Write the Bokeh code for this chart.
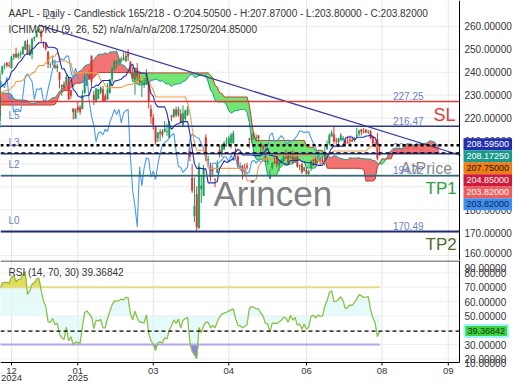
import numpy as np
from bokeh.plotting import figure
from bokeh.layouts import column
from bokeh.models import Label, Range1d
from bokeh.embed import file_html
from bokeh.resources import INLINE

FONT = "Liberation Sans"

# ---------------- data (daily bars, index 0 ~ 6 Dec 2024; negative = history) -------------
first_index = -82
opens = [
    216.07, 219.01, 220.57, 224.60, 223.92, 225.72, 225.77, 226.52, 227.79, 225.66, 226.76, 226.00, 227.92, 230.10, 230.19,
    228.55, 221.66, 221.63, 223.95, 220.82, 218.92, 221.46, 222.50, 223.58, 216.54, 215.75, 217.55, 224.99, 229.97, 227.34, 228.65, 224.93, 227.30, 228.46, 230.04,
    229.52, 225.89, 225.14, 227.90, 224.50, 224.30, 225.23, 227.78, 229.30, 228.70, 233.61, 231.60, 233.43, 236.18, 234.45, 233.89, 234.08, 229.98, 229.74, 233.32, 233.10, 232.61, 229.34,
    220.97, 220.99, 221.80, 222.61, 224.63, 227.17, 225.00, 224.55, 224.01, 225.02, 226.40, 225.25, 226.98, 228.06, 228.88, 228.06, 231.46, 233.33, 234.47, 234.81,
    237.27, 239.81, 242.87, 243.99, 242.91, 241.83, 246.89, 247.96, 246.89, 247.82, 247.99, 250.08, 252.16, 247.50, 248.04, 254.77, 255.49, 258.19, 257.83, 252.23, 252.44,
    248.93, 243.36, 244.31, 242.98, 241.92, 240.01, 233.53, 234.75, 234.64, 237.35, 232.12, 224.00, 219.79, 224.74, 224.78, 224.02, 230.85, 234.12, 238.67, 247.19,
    229.99, 227.25, 228.53, 231.29, 232.60, 229.57, 228.20, 231.20, 236.91, 241.25, 244.15, 244.66, 244.94, 245.95, 244.93, 248.00, 244.33, 239.41, 236.95,
    241.79, 237.71, 235.42, 234.44, 235.11, 235.54, 223.81, 220.14, 215.95, 211.25, 213.31, 214.16, 214.22, 213.99, 211.56, 221.00, 220.77, 223.51, 221.39, 221.67, 217.01,
    219.81, 221.32, 205.54, 193.89, 177.20, 186.70, 171.95, 189.07, 186.10, 211.44, 201.86, 198.36, 197.20, 193.27, 196.12, 206.00, 204.89, 206.37, 210.00, 208.69, 209.30,
    209.08, 206.09, 203.10, 198.21, 199.17, 197.72, 199.00, 210.97, 210.43, 212.43, 210.95, 212.36, 207.91, 207.67, 205.17, 200.71, 193.67, 198.30, 200.59, 203.58, 199.37,
    200.28, 201.35, 202.91, 203.50, 203.00, 204.39, 200.60, 203.50, 199.08, 199.73, 197.30, 197.20, 195.94, 198.24, 201.63, 202.59, 201.45, 201.43, 201.89, 202.01,
    206.67, 208.91, 212.15, 212.68, 210.10, 209.53, 210.51, 210.57, 209.93, 209.22, 210.30, 210.57, 210.87, 212.10, 213.14, 215.00, 213.90, 214.70, 214.03, 214.18, 211.90, 208.49,
    210.87, 204.505,
]
highs = [
    219.51, 221.89, 223.03, 225.35, 226.83, 225.99, 227.17, 227.98, 228.34, 228.22, 227.28, 228.85, 229.86, 232.92, 230.40,
    229.00, 221.78, 225.48, 225.24, 221.27, 221.48, 223.09, 223.55, 224.04, 217.22, 216.90, 222.71, 229.82, 233.09, 229.45, 229.35, 227.29, 228.50, 229.52, 233.00,
    229.65, 227.37, 226.81, 228.00, 225.69, 225.98, 229.75, 229.50, 229.41, 231.73, 237.49, 232.12, 233.85, 236.18, 236.85, 236.22, 235.14, 230.82, 233.22, 234.73, 234.33, 233.47, 229.83,
    225.35, 222.79, 223.95, 226.07, 227.88, 228.66, 225.70, 225.59, 226.65, 228.87, 226.92, 229.74, 230.16, 229.93, 230.16, 230.72, 233.25, 235.57, 235.69, 237.81,
    240.79, 242.76, 244.11, 244.54, 244.63, 247.24, 248.21, 250.80, 248.74, 249.29, 251.38, 253.83, 254.28, 252.00, 255.00, 255.65, 258.21, 260.10, 258.70, 253.50, 253.28,
    249.10, 244.18, 247.33, 245.55, 243.71, 240.16, 234.67, 236.12, 238.96, 238.01, 232.29, 224.42, 224.12, 227.03, 225.63, 232.15, 240.19, 239.86, 240.79, 247.19,
    231.83, 233.13, 232.67, 233.80, 234.00, 230.59, 235.23, 236.96, 242.34, 245.55, 245.18, 246.01, 246.78, 248.69, 248.86, 250.00, 244.98, 242.46, 242.09,
    244.03, 240.07, 236.55, 237.86, 241.37, 236.16, 225.84, 221.75, 216.84, 213.95, 215.22, 215.15, 218.76, 217.49, 218.84, 221.48, 224.10, 225.02, 224.99, 223.81, 225.62,
    223.68, 225.19, 207.49, 199.88, 194.15, 190.34, 200.61, 194.78, 199.54, 212.94, 203.51, 200.70, 198.83, 193.80, 201.59, 208.00, 208.83, 209.75, 211.50, 212.24, 213.58,
    214.56, 206.99, 204.10, 200.65, 199.44, 200.05, 200.54, 211.27, 213.40, 213.94, 212.96, 212.57, 209.48, 208.47, 207.04, 202.75, 197.70, 200.74, 202.73, 203.81, 201.96,
    202.13, 203.77, 206.24, 204.75, 205.70, 206.00, 204.35, 204.50, 199.68, 200.37, 198.69, 198.39, 197.57, 201.70, 202.30, 203.44, 203.67, 202.64, 203.22, 207.39,
    210.19, 213.34, 214.65, 216.23, 211.43, 211.33, 213.48, 212.13, 210.91, 211.89, 212.40, 211.80, 211.79, 215.78, 214.95, 215.15, 215.69, 215.24, 214.85, 214.81, 212.39, 209.84,
    213.58, 207.87,
]
lows = [
    215.60, 219.01, 219.70, 222.76, 223.65, 223.04, 225.45, 225.05, 223.90, 224.33, 223.89, 224.89, 225.68, 228.88, 227.48,
    221.17, 217.48, 221.52, 219.77, 216.71, 216.73, 217.89, 219.82, 221.91, 213.92, 214.50, 217.54, 224.63, 227.62, 225.81, 225.73, 224.02, 225.41, 227.30, 229.65,
    223.74, 223.02, 223.32, 224.13, 221.33, 223.25, 224.83, 227.17, 227.34, 228.60, 232.37, 229.84, 230.52, 234.01, 234.45, 232.60, 227.76, 228.41, 229.57, 232.55, 232.32, 229.55, 225.37,
    220.27, 219.71, 221.14, 221.19, 224.57, 226.41, 221.50, 223.36, 222.76, 225.00, 224.27, 225.17, 226.66, 225.89, 225.71, 228.06, 229.74, 233.33, 233.81, 233.97,
    237.16, 238.90, 241.25, 242.13, 242.08, 241.75, 245.34, 246.26, 245.68, 246.24, 247.65, 249.78, 247.74, 247.09, 245.69, 253.45, 255.29, 257.63, 253.06, 250.75, 249.43,
    241.82, 241.89, 243.20, 241.35, 240.05, 233.00, 229.72, 232.47, 234.43, 228.03, 228.48, 219.38, 219.79, 222.30, 221.41, 223.98, 230.81, 234.01, 237.21, 233.44,
    225.70, 226.65, 228.27, 230.43, 227.26, 227.20, 228.13, 230.68, 235.57, 240.99, 241.84, 243.16, 244.29, 245.22, 244.42, 244.91, 239.13, 237.06, 230.20,
    236.11, 234.68, 229.23, 233.16, 234.76, 224.22, 217.45, 214.91, 208.42, 209.58, 209.97, 211.49, 213.75, 212.22, 211.28, 218.58, 220.08, 220.47, 220.56, 217.68, 216.23,
    218.90, 221.02, 201.25, 187.34, 174.62, 170.49, 171.89, 183.00, 186.06, 201.16, 199.80, 192.37, 194.42, 189.81, 195.97, 202.80, 202.94, 206.20, 207.46, 208.37, 206.67,
    208.90, 202.16, 198.21, 197.02, 193.25, 194.68, 197.54, 206.75, 209.00, 210.58, 209.54, 209.77, 204.26, 205.03, 200.71, 199.70, 193.46, 197.43, 199.90, 198.51, 196.78,
    200.12, 200.96, 202.10, 200.15, 202.05, 200.02, 200.57, 198.41, 197.36, 195.70, 196.56, 195.21, 195.07, 196.86, 198.96, 200.20, 200.62, 199.46, 200.00, 199.26,
    206.14, 208.14, 211.81, 208.80, 208.45, 207.22, 210.03, 209.86, 207.54, 208.92, 208.64, 209.59, 209.70, 211.63, 212.23, 212.41, 213.53, 213.40, 213.06, 210.82, 207.72, 207.16,
    201.50, 203.80,
]
closes = [
    217.53, 221.27, 221.72, 224.72, 226.05, 225.89, 226.51, 226.40, 224.53, 226.84, 227.18, 228.03, 226.49, 229.79, 229.00,
    222.77, 220.85, 222.38, 220.82, 220.91, 220.11, 222.66, 222.77, 222.50, 216.32, 216.79, 220.69, 228.87, 228.20, 226.47, 227.37, 226.37, 227.52, 227.79, 233.00,
    226.21, 226.78, 225.67, 226.80, 221.69, 225.77, 229.54, 229.04, 227.55, 231.30, 233.85, 231.78, 232.15, 235.00, 236.48, 235.86, 230.76, 230.57, 231.41, 233.40, 233.67, 230.10, 225.91,
    222.91, 222.01, 223.45, 222.72, 227.48, 226.96, 224.23, 224.23, 225.12, 228.22, 225.00, 228.02, 228.28, 229.00, 228.52, 229.87, 232.87, 235.06, 234.93, 237.33,
    239.59, 242.65, 243.01, 243.04, 242.84, 246.75, 247.77, 246.49, 247.96, 248.13, 251.04, 253.48, 248.05, 249.79, 254.49, 255.27, 258.20, 259.02, 255.59, 252.20, 250.42,
    243.85, 243.36, 245.00, 242.21, 242.70, 236.85, 234.40, 233.28, 237.87, 228.26, 229.98, 222.64, 223.83, 223.66, 222.78, 229.86, 238.26, 239.36, 237.59, 236.00,
    228.01, 232.80, 232.47, 233.22, 227.63, 227.65, 232.62, 236.87, 241.53, 244.60, 244.47, 244.87, 245.83, 245.55, 247.10, 247.04, 240.36, 237.30, 241.84,
    238.03, 235.93, 235.74, 235.33, 239.07, 227.48, 220.84, 216.98, 209.68, 213.49, 214.00, 212.69, 215.24, 214.10, 218.27, 220.73, 223.75, 221.53, 223.85, 217.90, 222.13,
    223.19, 223.89, 203.19, 188.38, 181.46, 172.42, 198.85, 190.42, 198.15, 202.52, 202.14, 194.27, 196.98, 193.16, 199.74, 204.60, 208.37, 209.28, 210.14, 211.21, 212.50,
    213.32, 205.35, 198.89, 198.51, 196.25, 197.49, 198.53, 210.79, 212.93, 212.33, 211.45, 211.26, 208.78, 206.86, 202.09, 201.36, 195.27, 200.21, 200.42, 199.95, 200.85,
    201.70, 203.27, 202.82, 200.63, 203.92, 201.45, 202.67, 198.78, 199.20, 196.45, 198.42, 195.64, 196.58, 201.00, 201.50, 200.30, 201.56, 201.00, 201.08, 205.17,
    207.82, 212.44, 213.55, 209.95, 210.01, 211.14, 212.41, 211.16, 208.62, 209.11, 210.16, 210.02, 211.18, 212.48, 214.40, 214.15, 213.76, 213.88, 214.05, 211.27, 209.05, 207.57,
    202.38, 203.82,
]

# indicator settings
tenkan_len, kijun_len, senkou_len, displacement = 9, 26, 52, 26
rsi_len, rsi_upper, rsi_lower = 14, 70, 30

# horizontal levels
sl_level = 227.25
l5_level = 216.47
l3_level = 204.40
l2_level = 194.72
tp1_level = 194.95
l0_level = 170.49
senkou_a_now = 208.1725
senkou_b_now = 204.85
rsi_now = 39.36842
trend_x = [13, 197.3]
trend_y = [260.6, 203.8]

price_ticks = [160, 170, 180, 190, 200, 210, 220, 230, 240, 250, 260]
rsi_ticks = [20, 30, 40, 50, 60, 70, 80]
month_tick_pos = [1, 30, 63, 96, 130, 163, 192]
month_tick_labels = ["12\n2024", "01\n2025", "03", "04", "06", "08", "09"]

title_text = "AAPL - Daily - Candlestick    165/218 - O:204.50500 - H:207.87000 - L:203.80000 - C:203.82000"
ichimoku_text = "ICHIMOKU (9, 26, 52)    n/a/n/a/n/a/208.17250/204.85000"
rsi_text = "RSI (14, 70, 30)    39.36842"

box_texts = ["208.59500", "208.17250", "207.75000", "204.85000", "203.82000", "203.82000"]
box_anchor = 208.595
box_fills = ["#1f2fae", "#1b9a8c", "#f07d14", "#d0193a", "#f05c5c", "#3f8fe6"]
box_text_colors = ["white", "white", "#1a1a1a", "white", "white", "#0d1f6a"]

# ---------------- layout constants (pixels) ----------------
W, H_MAIN, H_RSI = 512, 260, 122
PX_PER_BAR = 2.287
X0_PX = 8.686            # pixel of bar index 0
AXIS_PX = 459            # right price axis line
P_TOP, P_BOT = 271.35, 157.82
RSI_TOP, RSI_SCALE = 88.63, 1.433   # value at top of RSI panel, px per RSI unit
RSI_AXIS_PX = 102        # x axis line inside the RSI panel


def bar_at(px):
    return (px - X0_PX) / PX_PER_BAR


def rsi_at(py):
    return RSI_TOP - py / RSI_SCALE


x_range = Range1d(bar_at(0), bar_at(W))
axis_x = bar_at(AXIS_PX)

# ---------------- computations ----------------
O = np.array(opens); H = np.array(highs); L = np.array(lows); C = np.array(closes)
N = len(C)
assert len(O) == len(H) == len(L) == N
idx = np.arange(first_index, first_index + N).astype(float)


def mid_channel(n):
    out = np.full(N, np.nan)
    for i in range(n - 1, N):
        out[i] = (H[i - n + 1:i + 1].max() + L[i - n + 1:i + 1].min()) / 2
    return out


tenkan = mid_channel(tenkan_len)
kijun = mid_channel(kijun_len)
span_a = (tenkan + kijun) / 2
span_b = mid_channel(senkou_len)
cloud_x = idx + displacement
chikou_x = idx - displacement

delta = np.diff(C)
gain = np.where(delta > 0, delta, 0.0)
loss = np.where(delta < 0, -delta, 0.0)
rsi = np.full(N, np.nan)
ag = gain[:rsi_len].mean(); al = loss[:rsi_len].mean()
rsi[rsi_len] = 100 - 100 / (1 + ag / al)
for i in range(rsi_len + 1, N):
    ag = (ag * (rsi_len - 1) + gain[i - 1]) / rsi_len
    al = (al * (rsi_len - 1) + loss[i - 1]) / rsi_len
    rsi[i] = 100 - 100 / (1 + ag / al)


def lab(fig, text, x, y, size="10px", color="#333333", align="left", baseline="middle",
        xo=0, yo=0, units="data", **kw):
    fig.add_layout(Label(x=x, y=y, x_units=units, y_units=units, text=text, text_font=FONT,
                         text_font_size=size, text_color=color, text_align=align,
                         text_baseline=baseline, x_offset=xo, y_offset=yo, **kw))


def new_fig(height, y_range):
    f = figure(width=W, height=height, x_range=x_range, y_range=y_range,
               output_backend="svg", toolbar_location=None, x_axis_location=None,
               y_axis_location=None, min_border=0)
    f.outline_line_color = None
    f.background_fill_color = "white"
    f.border_fill_color = "white"
    f.grid.visible = False
    return f


# ---------------- main price panel ----------------
p = new_fig(H_MAIN, Range1d(P_BOT, P_TOP))
x_left = x_range.start

# grid
p.segment(x0=[x_left] * len(price_ticks), y0=price_ticks, x1=[axis_x] * len(price_ticks),
          y1=price_ticks, line_color="#ececec", line_width=1)
p.segment(x0=month_tick_pos, y0=[P_BOT] * len(month_tick_pos), x1=month_tick_pos,
          y1=[P_TOP] * len(month_tick_pos), line_color="#e6e6e6", line_width=1)

# level value label hidden under the cloud
lab(p, "204.40", bar_at(423), l3_level, color="#6b7fc4", align="right", baseline="bottom", yo=3,
    level="underlay")

# cloud
ok = ~np.isnan(span_b)
cx = cloud_x[ok]; a = span_a[ok]; b = span_b[ok]
top = np.maximum(a, b)
p.varea(x=cx, y1=b, y2=top, fill_color="#f15a5a", fill_alpha=0.85)
p.varea(x=cx, y1=a, y2=top, fill_color="#4fe04f", fill_alpha=0.8)
p.line(cx, a, line_color="#1b9a8c", line_width=1)
p.line(cx, b, line_color="#c0392b", line_width=1)

# candles
up = C >= O
col = list(np.where(up, "#1f9a5c", "#d9342f"))
p.segment(x0=idx, y0=H, x1=idx, y1=L, line_color=col, line_width=1)
p.vbar(x=idx, width=0.62, top=np.maximum(O, C), bottom=np.minimum(O, C),
       fill_color=col, line_color=col, line_width=0.5)

# ichimoku lines
p.line(chikou_x, C, line_color="#4a9be8", line_width=1.1)
p.line(idx, kijun, line_color="#f39a4a", line_width=1.1)
p.line(idx, tenkan, line_color="#1f2fae", line_width=1.1)

# trend line
p.line(trend_x, trend_y, line_color="#3b3ba0", line_width=1.2)


def hline(fig, y, **kw):
    fig.line([x_left, axis_x], [y, y], **kw)


hline(p, sl_level, line_color="#dd3b3b", line_width=1.3)
hline(p, l5_level, line_color="#2b3990", line_width=1.5)
hline(p, l3_level, line_color="#2b3990", line_width=1.5)
hline(p, tp1_level, line_color="#3aa05a", line_width=1.2)
hline(p, l2_level, line_color="#2b3990", line_width=1.2)
hline(p, l0_level, line_color="#1f2a78", line_width=2)
hline(p, senkou_b_now, line_color="black", line_width=1.3, line_dash="4 3")
hline(p, senkou_a_now, line_color="black", line_width=2.6, line_dash="3 3")

# price axis line
p.line([axis_x, axis_x], [P_BOT, P_TOP], line_color="black", line_width=1)

# texts
lab(p, "Arincen", bar_at(213), l2_level, size="35px", color="#6e6e6e", yo=-18, text_alpha=0.9)
lab(p, "AtPrice", bar_at(400), l2_level, size="16px", color="#8a8a8a", yo=7)
lab(p, "194.72", bar_at(423), l2_level, color="#6b7fc4", align="right", baseline="bottom", yo=2)
lab(p, "227.25", bar_at(423), sl_level, color="#6b7fc4", align="right", baseline="bottom", yo=1)
lab(p, "216.47", bar_at(423), l5_level, color="#6b7fc4", align="right", baseline="bottom", yo=1)
lab(p, "170.49", bar_at(423), l0_level, color="#6b7fc4", align="right", baseline="bottom", yo=1)
lab(p, "SL", bar_at(433), sl_level, size="18px", color="#e53935", yo=-14)
lab(p, "TP1", bar_at(425), l2_level, size="17px", color="#2e9e3e", yo=-13)
lab(p, "TP2", bar_at(425), l0_level, size="17px", color="#4f6b2a", yo=-13)
for name, lvl in [("L5", l5_level), ("L3", l3_level), ("L2", l2_level), ("L0", l0_level)]:
    lab(p, name, bar_at(8), lvl, color="#6b7fc4", yo=11)
lab(p, "L1", trend_x[0], trend_y[0], color="#6b7fc4", xo=6, yo=10)
lab(p, title_text, 8, H_MAIN - 12.5, units="screen")
lab(p, ichimoku_text, 8, H_MAIN - 29, units="screen")

# price axis labels and value boxes
for t in price_ticks:
    lab(p, f"{t:.5f}", axis_x, t, xo=5, yo=(3 if t == price_ticks[0] else 0))
for k, (t, fc, tc) in enumerate(zip(box_texts, box_fills, box_text_colors)):
    lab(p, t, axis_x, box_anchor, size="9px", color=tc, xo=4, yo=-12 * k,
        background_fill_color=fc, background_fill_alpha=1.0, padding=3)

# ---------------- RSI panel ----------------
r_bot = rsi_at(H_RSI)
r_axis = rsi_at(RSI_AXIS_PX)
r = new_fig(H_RSI, Range1d(r_bot, RSI_TOP))

r.segment(x0=[x_left] * len(rsi_ticks), y0=rsi_ticks, x1=[axis_x] * len(rsi_ticks),
          y1=rsi_ticks, line_color="#efefef", line_width=1)
r.segment(x0=month_tick_pos, y0=[r_axis] * len(month_tick_pos), x1=month_tick_pos,
          y1=[RSI_TOP] * len(month_tick_pos), line_color="#e6e6e6", line_width=1)

okr = ~np.isnan(rsi)
rx = idx[okr]; rv = rsi[okr]
r.varea(x=rx, y1=np.minimum(rv, 50), y2=np.maximum(rv, 50), fill_color="#dcf8f8", fill_alpha=0.7)
r.varea(x=rx, y1=np.full(len(rx), float(rsi_upper)), y2=np.maximum(rv, rsi_upper),
        fill_color="#e3d53c", fill_alpha=0.85)
r.varea(x=rx, y1=np.minimum(rv, rsi_lower), y2=np.full(len(rx), float(rsi_lower)),
        fill_color="#7f6fe0", fill_alpha=0.85)
r.line([idx[0], idx[-1]], [rsi_upper, rsi_upper], line_color="#e6dc86", line_width=2)
r.line([idx[0], idx[-1]], [rsi_lower, rsi_lower], line_color="#b2a5ec", line_width=2)
r.line(rx, rv, line_color="#8cbf4a", line_width=1.3)
hline(r, rsi_now, line_color="black", line_width=1.1, line_dash="4 3")

# panel separator, axes
hline(r, rsi_at(0.5), line_color="#222222", line_width=1)
hline(r, r_axis, line_color="black", line_width=1)
r.line([axis_x, axis_x], [r_axis, RSI_TOP], line_color="black", line_width=1)
r.segment(x0=month_tick_pos, y0=[r_axis] * len(month_tick_pos), x1=month_tick_pos,
          y1=[rsi_at(RSI_AXIS_PX + 3)] * len(month_tick_pos), line_color="black", line_width=1)
for pos, txt in zip(month_tick_pos, month_tick_labels):
    parts = txt.split("\n")
    lab(r, parts[0], pos, rsi_at(RSI_AXIS_PX + 8), size="9.5px", align="center")
    if len(parts) > 1:
        lab(r, parts[1], pos, rsi_at(RSI_AXIS_PX + 15), size="9.5px", align="center")

lab(r, rsi_text, 8, H_RSI - 12, units="screen")
for t in rsi_ticks:
    lab(r, f"{t:.5f}", axis_x, t, xo=5)
lab(r, "90.00000", axis_x, 80, xo=5, yo=5)
lab(r, "10.00000", axis_x, 20, xo=5, yo=-4)
lab(r, f"{rsi_now:.5f}", axis_x, rsi_now, size="9px", color="#0b3d0b", xo=5,
    background_fill_color="#3fd23f", background_fill_alpha=1.0,
    border_line_color="#9ff3ff", border_line_width=2, padding=3)

layout = column(p, r)
open("out.html", "w").write(file_html(layout, INLINE))
